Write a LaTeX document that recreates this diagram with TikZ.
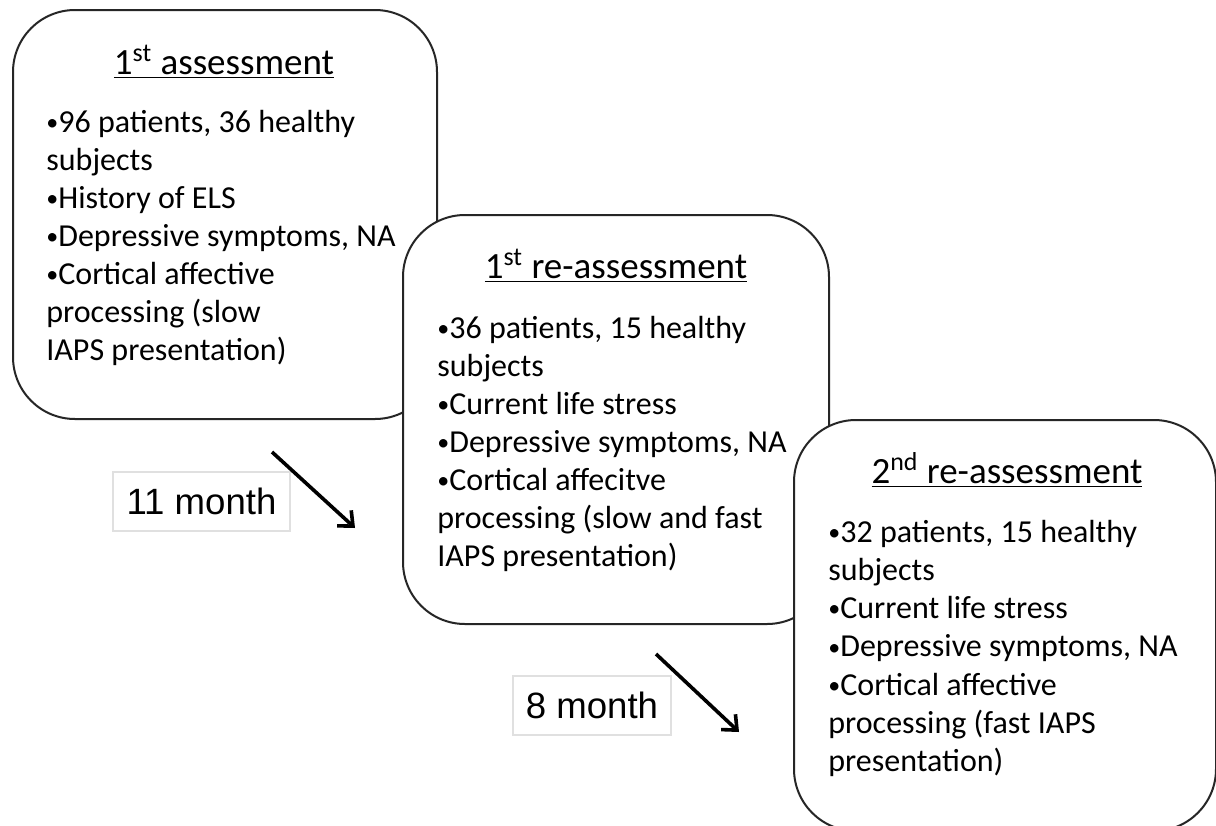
\documentclass[tikz,border=0pt]{standalone}
\usepackage{fontspec}
\setmainfont{Carlito}
\newfontfamily\labelfont{Liberation Sans}
\usetikzlibrary{arrows.meta}
\newcommand{\bul}{{\fontsize{12pt}{12pt}\selectfont\raisebox{0.9pt}{•}}}
\begin{document}
\begin{tikzpicture}[x=0.5pt,y=-0.5pt,
  panel/.style={draw=black!85, line width=1pt, fill=white, rounded corners=31pt, anchor=north west, inner sep=0pt},
  ttl/.style={anchor=base, inner sep=0pt, font=\fontsize{18.5pt}{22pt}\selectfont},
  body/.style={anchor=base west, inner sep=0pt, font=\fontsize{16pt}{19pt}\selectfont},
  gap/.style={draw=black!12, line width=0.6pt, fill=white, inner sep=0pt, font=\labelfont\fontsize{18.3pt}{22pt}\selectfont},
  flow/.style={line width=1.8pt, -{Straight Barb[length=6pt,width=10.5pt]}}]
\useasboundingbox (0,0) rectangle (1216,825);
\clip (0,0) rectangle (1216,825);
\fill[white] (0,0) rectangle (1216,825);

% panels
\node[panel, minimum width=212pt, minimum height=204.5pt] (p1) at (12,9) {};
\node[panel, minimum width=213pt, minimum height=204.5pt] (p2) at (402,214) {};
\node[panel, minimum width=211pt, minimum height=205.5pt] (p3) at (793,419) {};

% titles
\node[ttl] (t1) at (224,74) {\underline{1\textsuperscript{st} assessment}};
\node[ttl] (t2) at (616,278) {\underline{1\textsuperscript{st} re-assessment}};
\node[ttl] (t3) at (1007,483) {\underline{2\textsuperscript{nd} re-assessment}};

% bodies
\foreach \s [count=\i from 0] in {{\bul 96 patients, 36 healthy},{subjects},{\bul History of ELS},{\bul Depressive symptoms, NA},{\bul Cortical affective},{processing (slow},{IAPS presentation)}}
  \node[body] (ba\i) at (46,{132+38*\i}) {\s};
\foreach \s [count=\i from 0] in {{\bul 36 patients, 15 healthy},{subjects},{\bul Current life stress},{\bul Depressive symptoms, NA},{\bul Cortical affecitve},{processing (slow and fast},{IAPS presentation)}}
  \node[body] (bb\i) at (437,{338+38*\i}) {\s};
\foreach \s [count=\i from 0] in {{\bul 32 patients, 15 healthy},{subjects},{\bul Current life stress},{\bul Depressive symptoms, NA},{\bul Cortical affective},{processing (fast IAPS},{presentation)}}
  \node[body] (bc\i) at (828,{542+38.3*\i}) {\s};

% interval labels
\node[gap, minimum width=88.5pt, minimum height=29.5pt] (m1) at (201.5,501.5) {11 month};
\node[gap, minimum width=79pt, minimum height=29.5pt] (m2) at (592,705.5) {8 month};

% arrows
\coordinate (a1s) at (272,452);
\coordinate (a1e) at (355,528);
\coordinate (a2s) at (656,654);
\coordinate (a2e) at (739,732);
\draw[flow] (a1s) -- (a1e);
\draw[flow] (a2s) -- (a2e);
\end{tikzpicture}
\end{document}
